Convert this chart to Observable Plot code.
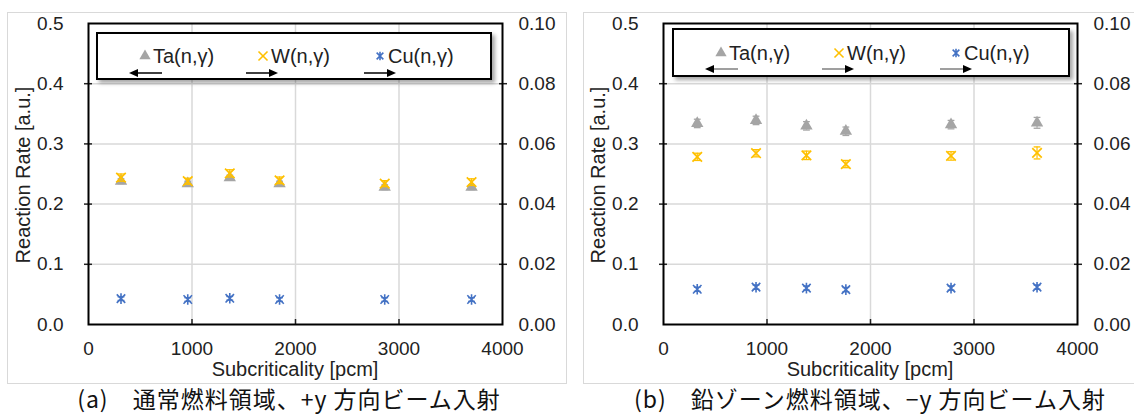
<!DOCTYPE html>
<html><head><meta charset="utf-8">
<script src="https://cdn.jsdelivr.net/npm/d3@7"></script>
<script src="https://cdn.jsdelivr.net/npm/@observablehq/plot@0.6"></script>
<style>
html,body{margin:0;padding:0;background:#fff;}
body{width:1134px;height:414px;overflow:hidden;position:relative;font-family:"Liberation Sans",Arial,sans-serif;color:#222;}
.panel{position:absolute;top:12px;width:560px;height:372px;border:1px solid #d9d9d9;box-sizing:border-box;}
.panel svg{position:absolute;left:0;top:0;}
.ytitle{position:absolute;transform:translate(-50%,-50%) rotate(-90deg);white-space:nowrap;font-size:20px;line-height:1;}
.xtitle{position:absolute;transform:translate(-50%,-50%);white-space:nowrap;font-size:20px;line-height:1;}
.legend{position:absolute;border:2px solid #000;background:#fff;box-shadow:3px 3px 4px rgba(0,0,0,0.35);box-sizing:border-box;}
.legend svg{position:absolute;left:0;top:0;overflow:visible;}
.caption{position:absolute;transform:translate(-50%,-50%);white-space:nowrap;font-family:"Noto Sans CJK JP",sans-serif;font-size:23px;line-height:1;letter-spacing:1px;color:#111;}
</style>
</head><body>
<div id="root"></div>
<script>
// ---- data ----
const xTicks = [0, 1000, 2000, 3000, 4000];
const leftTicks = [0, 0.1, 0.2, 0.3, 0.4, 0.5];
const rightTicks = [0, 0.02, 0.04, 0.06, 0.08, 0.10];
const seriesNames = ["Ta(n,γ)", "W(n,γ)", "Cu(n,γ)"];
const axisDir = ["left", "right", "right"];
const xTitle = "Subcriticality [pcm]";
const yTitle = "Reaction Rate [a.u.]";
const captions = ["(a)　通常燃料領域、+y 方向ビーム入射", "(b)　鉛ゾーン燃料領域、−y 方向ビーム入射"];

// panel (a)
const subA = [314, 959, 1365, 1846, 2862, 3701];
const taA = [0.238, 0.234, 0.244, 0.234, 0.228, 0.228];
const taErrA = [0.004, 0.004, 0.004, 0.004, 0.004, 0.004];
const wA = [0.0488, 0.0476, 0.0502, 0.0479, 0.0468, 0.0473];     // right axis
const wErrA = [0.0012, 0.0010, 0.0012, 0.0011, 0.0010, 0.0011];
const cuA = [0.0086, 0.0083, 0.0087, 0.0083, 0.0083, 0.0083];   // right axis
const cuErrA = [0.0006, 0.0006, 0.0006, 0.0006, 0.0006, 0.0006];

// panel (b)
const subB = [326, 894, 1381, 1762, 2778, 3609];
const taB = [0.334, 0.339, 0.330, 0.321, 0.332, 0.335];
const taErrB = [0.007, 0.007, 0.007, 0.007, 0.007, 0.009];
const wB = [0.0557, 0.0569, 0.0562, 0.0533, 0.0560, 0.0570];
const wErrB = [0.0012, 0.0012, 0.0014, 0.0012, 0.0014, 0.0020];
const cuB = [0.0117, 0.0124, 0.0121, 0.0116, 0.0121, 0.0124];
const cuErrB = [0.0007, 0.0007, 0.0007, 0.0007, 0.0007, 0.0007];

const colors = {ta: "#a5a5a5", w: "#ffc000", cu: "#4472c4"};
const SCALE = 5; // secondary axis (0.10) maps onto primary (0.5)

const capSym = {draw(ctx, size){ const r = Math.sqrt(size/Math.PI); ctx.moveTo(-r,0); ctx.lineTo(r,0); }};
// Excel-style star marker: an x plus a vertical bar
const starSym = {draw(ctx, size){ const r = Math.sqrt(size/Math.PI); const a = r*0.8;
  ctx.moveTo(-a,-a); ctx.lineTo(a,a); ctx.moveTo(-a,a); ctx.lineTo(a,-a); ctx.moveTo(0,-r); ctx.lineTo(0,r); }};

function series(xs, ys, es, k){
  return xs.map((x,i)=>({x, y: ys[i]*k, lo:(ys[i]-es[i])*k, hi:(ys[i]+es[i])*k}));
}

function errMarks(D, color){
  return [
    Plot.ruleX(D, {x:"x", y1:"lo", y2:"hi", stroke: color, strokeWidth: 1.2}),
    Plot.dot(D, {x:"x", y:"lo", symbol: capSym, r: 3.4, stroke: color, strokeWidth: 1.3}),
    Plot.dot(D, {x:"x", y:"hi", symbol: capSym, r: 3.4, stroke: color, strokeWidth: 1.3})
  ];
}

function makePanel(left, mL, xs, ta, taE, w, wE, cu, cuE){
  const T = series(xs, ta, taE, 1);
  const W = series(xs, w, wE, SCALE);
  const C = series(xs, cu, cuE, SCALE);
  const mR = 558 - 414 - mL;
  const chart = Plot.plot({
    width: 558, height: 370,
    marginLeft: mL, marginRight: mR, marginTop: 10, marginBottom: 59,
    style: {fontFamily: "Liberation Sans, Arial, sans-serif", fontSize: "19px", color: "#222", background: "transparent", overflow: "visible"},
    x: {domain: [0, 4000]},
    y: {domain: [0, 0.5]},
    marks: [
      Plot.gridX(xTicks.slice(1, -1), {stroke: "#d9d9d9", strokeOpacity: 1, strokeWidth: 1.5}),
      Plot.gridY(leftTicks.slice(1, -1), {stroke: "#d9d9d9", strokeOpacity: 1, strokeWidth: 1.5}),
      Plot.axisX(xTicks, {tickSize: 0, tickPadding: 17, tickFormat: d => String(d), label: null}),
      Plot.axisX(xTicks.slice(1, -1), {tickSize: -5, tickFormat: () => "", label: null, strokeWidth: 1.5}),
      Plot.axisY(leftTicks, {anchor: "left", tickSize: 0, tickPadding: 25, tickFormat: d => d.toFixed(1), label: null}),
      Plot.axisY(leftTicks.slice(1, -1), {anchor: "left", tickSize: 4, tickFormat: () => "", label: null, strokeWidth: 1.5}),
      Plot.axisY(leftTicks.slice(1, -1), {anchor: "left", tickSize: -4, tickFormat: () => "", label: null, strokeWidth: 1.5}),
      Plot.axisY(rightTicks.map(v => v*SCALE), {anchor: "right", tickSize: 0, tickPadding: 16, tickFormat: d => (d/SCALE).toFixed(2), label: null}),
      Plot.axisY(rightTicks.slice(1, -1).map(v => v*SCALE), {anchor: "right", tickSize: 4, tickFormat: () => "", label: null, strokeWidth: 1.5}),
      Plot.axisY(rightTicks.slice(1, -1).map(v => v*SCALE), {anchor: "right", tickSize: -4, tickFormat: () => "", label: null, strokeWidth: 1.5}),
      Plot.frame({stroke: "#000", strokeWidth: 2}),
      ...errMarks(T, colors.ta),
      Plot.dot(T, {x: "x", y: "y", symbol: "triangle", r: 4.6, fill: colors.ta, stroke: "none"}),
      ...errMarks(W, colors.w),
      Plot.dot(W, {x: "x", y: "y", symbol: "times", r: 4.4, stroke: colors.w, strokeWidth: 1.7, fill: "none"}),
      ...errMarks(C, colors.cu),
      Plot.dot(C, {x: "x", y: "y", symbol: starSym, r: 5.3, stroke: colors.cu, strokeWidth: 1.6, fill: "none"})
    ]
  });
  const div = document.createElement("div");
  div.className = "panel";
  div.style.left = left + "px";
  div.appendChild(chart);
  document.body.appendChild(div);
}

function makeLegend(box){
  const lg = document.createElement("div");
  lg.className = "legend";
  Object.assign(lg.style, {left: box.x+"px", top: box.y+"px", width: box.w+"px", height: box.h+"px"});
  const svg = d3.create("svg").attr("width", box.w).attr("height", box.h);
  const syms = [d3.symbolTriangle, d3.symbolTimes, starSym];
  const cols = [colors.ta, colors.w, colors.cu];
  const markX = [47, 165, 282];
  const arr = [[31, 64], [148, 180], [266, 298]];
  const arrowCol = box.arrowCol;
  seriesNames.forEach((name, i) => {
    const g = svg.append("g").attr("transform", `translate(${markX[i]},${box.ty})`);
    const p = g.append("path").attr("d", d3.symbol(syms[i], 55)());
    if (i === 0) p.attr("fill", cols[i]); else p.attr("fill", "none").attr("stroke", cols[i]).attr("stroke-width", 1.6);
    svg.append("text").attr("x", markX[i] + 8).attr("y", box.ty).attr("dy", "0.35em")
      .attr("font-size", 20).attr("fill", "#222").text(name);
    const [a0, a1] = arr[i];
    const y = box.ay;
    if (axisDir[i] === "left") {
      svg.append("line").attr("x1", a0 + 8).attr("x2", a1).attr("y1", y).attr("y2", y).attr("stroke", arrowCol).attr("stroke-width", 1.5);
      svg.append("path").attr("d", `M${a0},${y} L${a0+9},${y-4} L${a0+9},${y+4} Z`).attr("fill", "#000");
    } else {
      svg.append("line").attr("x1", a0).attr("x2", a1 - 8).attr("y1", y).attr("y2", y).attr("stroke", arrowCol).attr("stroke-width", 1.5);
      svg.append("path").attr("d", `M${a1},${y} L${a1-9},${y-4} L${a1-9},${y+4} Z`).attr("fill", "#000");
    }
  });
  lg.appendChild(svg.node());
  document.body.appendChild(lg);
}

function addText(cls, txt, x, y){
  const d = document.createElement("div");
  d.className = cls; d.textContent = txt;
  d.style.left = x + "px"; d.style.top = y + "px";
  document.body.appendChild(d);
}

makePanel(7, 80, subA, taA, taErrA, wA, wErrA, cuA, cuErrA);
makePanel(583, 79, subB, taB, taErrB, wB, wErrB, cuB, cuErrB);
makeLegend({x: 96, y: 32, w: 396, h: 48, ty: 22, ay: 39, arrowCol: "#000"});
makeLegend({x: 672, y: 28, w: 398, h: 49, ty: 23, ay: 39, arrowCol: "#7f7f7f"});
addText("ytitle", yTitle, 23, 175);
addText("ytitle", yTitle, 598, 175);
addText("xtitle", xTitle, 295, 369);
addText("xtitle", xTitle, 870, 369);
addText("caption", captions[0], 289, 398);
addText("caption", captions[1], 870, 398);
</script>
</body></html>
